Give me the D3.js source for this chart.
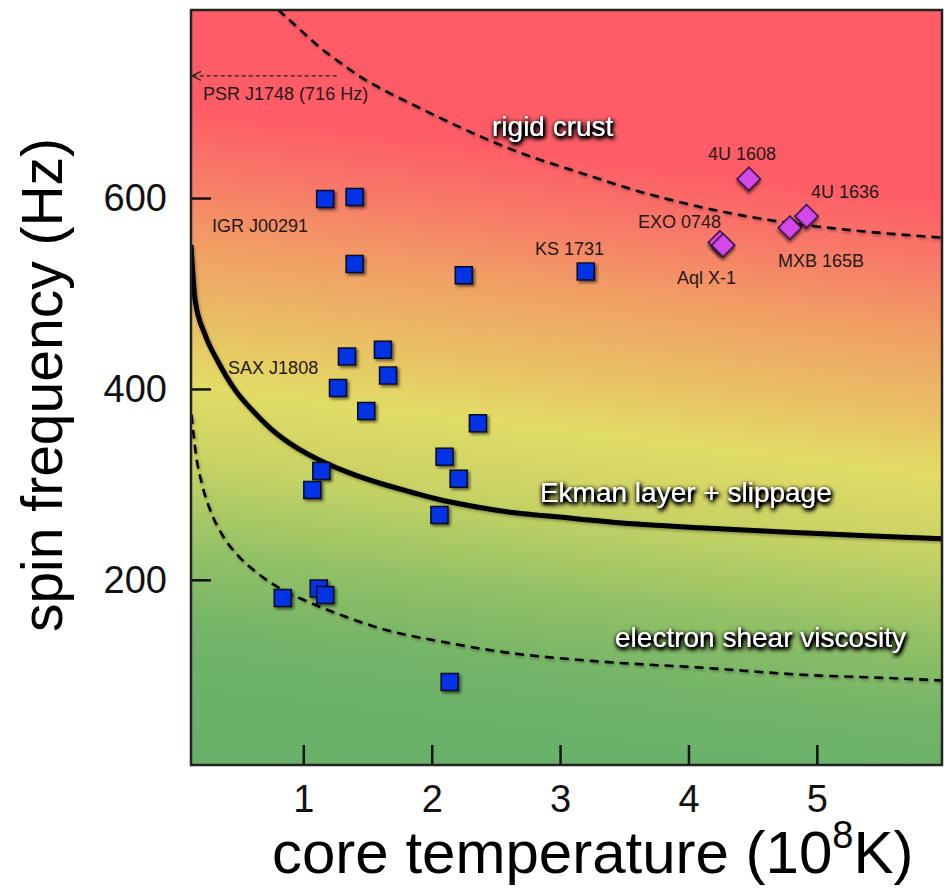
<!DOCTYPE html>
<html><head><meta charset="utf-8">
<script src="https://cdn.jsdelivr.net/npm/d3@7"></script>
<style>
body{margin:0;background:#fff;}
svg{display:block;}
text{font-family:"Liberation Sans",Arial,Helvetica,sans-serif;}
</style>
</head><body>
<svg id="c" width="948" height="888"></svg>
<script>
// ---------------- data ----------------
const xTicks = [1, 2, 3, 4, 5];
const yTicks = [200, 400, 600];

// LMXBs (blue squares): core temperature (1e8 K), spin frequency (Hz)
const lmxbTemp = [1.17, 1.40, 1.40, 2.25, 3.20, 1.34, 1.62, 1.66, 1.27, 1.49, 2.36, 2.10, 2.21, 1.14, 1.07, 2.06, 1.12, 1.17, 0.84, 2.14];
const lmxbFreq = [599, 601, 531, 519, 523, 434, 441, 414, 401, 377, 364, 329, 306, 314, 294, 268, 191, 184, 181, 93];

// hot sources (magenta diamonds)
const hotNames = ["EXO 0748", "Aql X-1", "4U 1608", "MXB 165B", "4U 1636"];
const hotTemp = [4.245, 4.27, 4.47, 4.79, 4.92];
const hotFreq = [553.5, 550.5, 620, 569, 581];

// instability curves
const crustTemp = [0.803, 0.974, 1.130, 1.286, 1.442, 1.621, 1.886, 2.143, 2.400, 2.688, 3.155, 3.677, 4.191, 4.713, 5.234, 5.975];
const crustFreq = [797.4, 776.4, 757.6, 741.9, 727.2, 713.5, 695.7, 679.0, 663.3, 647.5, 626.6, 604.6, 587.8, 575.2, 566.8, 558.5];

const ekmanTemp = [0.125, 0.157, 0.234, 0.336, 0.468, 0.600, 0.741, 0.935, 1.169, 1.379, 1.636, 1.831, 2.065, 2.299, 2.532, 3.054, 3.568, 4.090, 4.868, 5.390, 5.975];
const ekmanFreq = [551, 493, 457, 428.5, 399, 378, 359, 339.5, 322.6, 311, 299.6, 292.3, 283.9, 277.6, 272.3, 265, 258.7, 254.5, 249.3, 246.1, 243];

const shearTemp = [0.129, 0.164, 0.211, 0.273, 0.367, 0.491, 0.647, 0.834, 1.052, 1.325, 1.636, 2.119, 2.532, 3.311, 4.090, 4.868, 5.647, 5.975];
const shearFreq = [373, 331, 300, 273.6, 247.4, 225.4, 206.5, 189.8, 176.1, 161.5, 147.8, 134.2, 124.8, 114.4, 108.1, 100.7, 96.6, 94.5];

const psrName = "PSR J1748 (716 Hz)";
const psrFreq = 728;
const psrArrowFromTemp = 1.26;

// ---------------- layout ----------------
const svg = d3.select("#c");
const L = 191, R = 942, T = 10, B = 765;
const x = d3.scaleLinear().domain([0.125, 5.975]).range([L, R]);
const y = d3.scaleLinear().domain([6, 797]).range([B, T]);

const defs = svg.append("defs");
const grad = defs.append("linearGradient").attr("id", "bg")
  .attr("gradientUnits", "userSpaceOnUse")
  .attr("x1", L).attr("y1", T).attr("x2", L - 0.12 * (B - T)).attr("y2", B);
[
  [0.00, "rgb(254,93,103)"],
  [0.13, "rgb(254,93,103)"],
  [0.21, "rgb(248,120,104)"],
  [0.31, "rgb(240,160,100)"],
  [0.42, "rgb(232,195,100)"],
  [0.49, "rgb(226,220,102)"],
  [0.59, "rgb(200,210,100)"],
  [0.63, "rgb(180,205,100)"],
  [0.71, "rgb(145,192,102)"],
  [0.81, "rgb(115,180,104)"],
  [0.89, "rgb(106,178,106)"],
  [1.00, "rgb(104,176,104)"]
].forEach(s => grad.append("stop").attr("offset", s[0]).attr("stop-color", s[1]));

defs.append("clipPath").attr("id", "clip").append("rect")
  .attr("x", L).attr("y", T).attr("width", R - L).attr("height", B - T);

const sh = defs.append("filter").attr("id", "mshadow").attr("x", "-50%").attr("y", "-50%").attr("width", "200%").attr("height", "200%");
sh.append("feDropShadow").attr("dx", 2).attr("dy", 2).attr("stdDeviation", 1.8).attr("flood-color", "#000").attr("flood-opacity", 0.55);

const lsh = defs.append("filter").attr("id", "lshadow").attr("x", "-10%").attr("y", "-10%").attr("width", "120%").attr("height", "120%");
lsh.append("feDropShadow").attr("dx", 1).attr("dy", 1.5).attr("stdDeviation", 1.5).attr("flood-color", "#000").attr("flood-opacity", 0.35);

const glow = defs.append("filter").attr("id", "glow").attr("x", "-10%").attr("y", "-40%").attr("width", "120%").attr("height", "180%");
glow.append("feGaussianBlur").attr("in", "SourceAlpha").attr("stdDeviation", 2.5).attr("result", "b");
glow.append("feOffset").attr("in", "b").attr("dx", 1).attr("dy", 1.5).attr("result", "bo");
const ct = glow.append("feComponentTransfer").attr("in", "bo").attr("result", "b2");
ct.append("feFuncA").attr("type", "linear").attr("slope", 2.6);
const mg = glow.append("feMerge");
mg.append("feMergeNode").attr("in", "b2");
mg.append("feMergeNode").attr("in", "SourceGraphic");

// background
svg.append("rect").attr("x", L).attr("y", T).attr("width", R - L).attr("height", B - T).attr("fill", "url(#bg)");

// curves
const line = d3.line().x(d => x(d[0])).y(d => y(d[1])).curve(d3.curveMonotoneX);
const cg = svg.append("g").attr("clip-path", "url(#clip)");
cg.append("path").datum(d3.zip(crustTemp, crustFreq)).attr("d", line)
  .attr("fill", "none").attr("stroke", "#000").attr("stroke-width", 2.6).attr("stroke-dasharray", "9,6").attr("filter", "url(#lshadow)");
cg.append("path").datum(d3.zip(shearTemp, shearFreq)).attr("d", line)
  .attr("fill", "none").attr("stroke", "#000").attr("stroke-width", 2.6).attr("stroke-dasharray", "9,6").attr("filter", "url(#lshadow)");
cg.append("path").datum(d3.zip(ekmanTemp, ekmanFreq)).attr("d", line)
  .attr("fill", "none").attr("stroke", "#000").attr("stroke-width", 5).attr("filter", "url(#lshadow)");

// PSR arrow
const ay = y(psrFreq);
svg.append("line").attr("x1", x(psrArrowFromTemp)).attr("x2", L + 1).attr("y1", ay).attr("y2", ay)
  .attr("stroke", "#222").attr("stroke-width", 1.2).attr("stroke-dasharray", "4,3");
svg.append("path").attr("d", `M${L + 10},${ay - 4.5}L${L + 1},${ay}L${L + 10},${ay + 4.5}`)
  .attr("fill", "none").attr("stroke", "#222").attr("stroke-width", 1.2);

// axes
const ax = svg.append("g").attr("transform", `translate(0,${B})`)
  .call(d3.axisBottom(x).tickValues(xTicks).tickSize(-20).tickPadding(20).tickFormat(d3.format("d")));
const ay2 = svg.append("g").attr("transform", `translate(${L},0)`)
  .call(d3.axisLeft(y).tickValues(yTicks).tickSize(-20).tickPadding(24).tickFormat(d3.format("d")));
[ax, ay2].forEach(g => {
  g.select(".domain").remove();
  g.selectAll(".tick line").attr("stroke", "#111").attr("stroke-width", 2.5);
  g.selectAll(".tick text").attr("font-size", 38).attr("fill", "#111")
    .style("font-family", '"Liberation Sans",Arial,Helvetica,sans-serif');
});

// markers
const sq = d3.symbol().type(d3.symbolSquare).size(289);
svg.append("g").selectAll("path").data(d3.zip(lmxbTemp, lmxbFreq)).join("path")
  .attr("d", sq).attr("transform", d => `translate(${x(d[0])},${y(d[1])})`)
  .attr("fill", "#0030e6").attr("stroke", "#0a0a20").attr("stroke-width", 1.5).attr("filter", "url(#mshadow)");
const dm = d3.symbol().type(d3.symbolSquare).size(270);
svg.append("g").selectAll("path").data(d3.zip(hotTemp, hotFreq)).join("path")
  .attr("d", dm).attr("transform", d => `translate(${x(d[0])},${y(d[1])}) rotate(45)`)
  .attr("fill", "#d448ea").attr("stroke", "#2a0a30").attr("stroke-width", 1.5).attr("filter", "url(#mshadow)");

// source labels (anchor in data coordinates)
const srcLabels = [
  [psrName, 0.219, 703],
  ["IGR J00291", 0.289, 564.7],
  ["SAX J1808", 0.414, 415.9],
  ["KS 1731", 2.805, 540.6],
  [hotNames[0], 3.607, 568.9],
  [hotNames[1], 3.910, 510.2],
  [hotNames[2], 4.152, 640.1],
  [hotNames[4], 4.954, 600.3],
  [hotNames[3], 4.697, 528.0]
];
svg.append("g").selectAll("text").data(srcLabels).join("text")
  .attr("x", d => x(d[1])).attr("y", d => y(d[2]))
  .attr("font-size", 18).attr("fill", "#241818").text(d => d[0]);

// region labels
const regLabels = [
  ["rigid crust", 2.470, 665.3],
  ["Ekman layer + slippage", 2.843, 281.7],
  ["electron shear viscosity", 3.428, 129.8]
];
svg.append("g").selectAll("text").data(regLabels).join("text")
  .attr("x", d => x(d[1])).attr("y", d => y(d[2]))
  .attr("font-size", 28).attr("fill", "#fff").attr("filter", "url(#glow)").text(d => d[0]);

// frame
svg.append("rect").attr("x", L).attr("y", T).attr("width", R - L).attr("height", B - T)
  .attr("fill", "none").attr("stroke", "#222").attr("stroke-width", 2.5);

// axis titles
const xt = svg.append("text").attr("x", 272).attr("y", 873).attr("font-size", 60).attr("fill", "#000");
xt.append("tspan").text("core temperature (10");
xt.append("tspan").attr("font-size", 38).attr("dy", -25).text("8");
xt.append("tspan").attr("dy", 25).text("K)");

svg.append("text").attr("transform", "translate(62,385) rotate(-90)")
  .attr("text-anchor", "middle").attr("font-size", 57).attr("fill", "#000")
  .text("spin frequency (Hz)");
</script>
</body></html>
